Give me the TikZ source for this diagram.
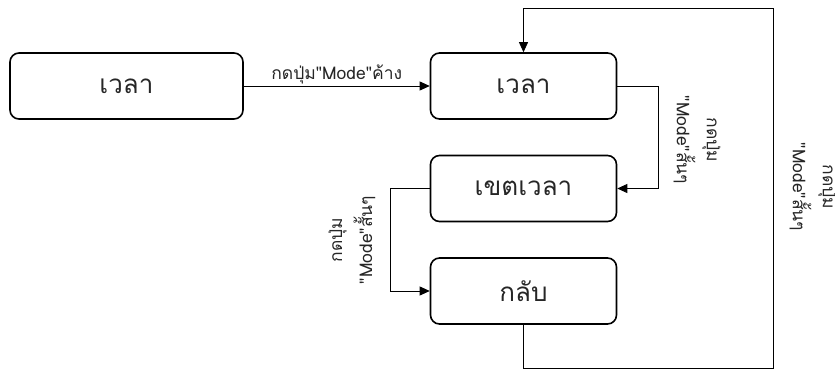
\documentclass[tikz,border=0pt]{standalone}
\usepackage{fontspec}
\newfontfamily\thaifont[Script=Thai]{Loma}
\usetikzlibrary{arrows.meta}
\begin{document}
\begin{tikzpicture}[x=1pt,y=-1pt,
  state/.style={draw,line width=1.6pt,rounded corners=9pt,minimum width=186pt,minimum height=66pt,inner sep=0pt,text=black!85,font=\thaifont\fontsize{26}{28}\selectfont},
  conn/.style={line width=0.8pt,-{Triangle[length=10pt,width=9pt]}},
  lbl/.style={font=\thaifont\fontsize{17.5}{21}\selectfont,align=center,inner sep=1pt,text=black!85},
  vlbl/.style={lbl,font=\thaifont\fontsize{17.5}{30}\selectfont}]
\useasboundingbox (0,0) rectangle (835,370);
\node[state,minimum width=233pt] (a) at (126.5,86) {เวลา};
\node[state] (b) at (523.5,86) {เวลา};
\node[state] (c) at (523.5,188.5) {เขตเวลา};
\node[state] (d) at (523.5,291) {กลับ};
\coordinate (br) at (658,86);
\coordinate (cl) at (390,188.5);
\coordinate (dd) at (523.5,368);
\coordinate (rr) at (773,368);
\coordinate (tt) at (773,8);
% long press: main clock to clock
\draw[conn] (a) -- node[lbl,above=1pt] {กดปุ่ม"Mode"ค้าง} (b);
% short presses cycle through the modes
\draw[conn] (b.east) -- (br) |- (c.east);
\node[vlbl,rotate=-90] at (697,140) {กดปุ่ม\\"Mode"สั้นๆ};
\draw[conn] (c.west) -- (cl) |- (d.west);
\node[vlbl,rotate=90] at (352,240) {กดปุ่ม\\"Mode"สั้นๆ};
\draw[conn] (d.south) -- (dd) -- (rr) -- (tt) -| (b.north);
\node[vlbl,rotate=-90] at (813,187) {กดปุ่ม\\"Mode"สั้นๆ};
\end{tikzpicture}
\end{document}
